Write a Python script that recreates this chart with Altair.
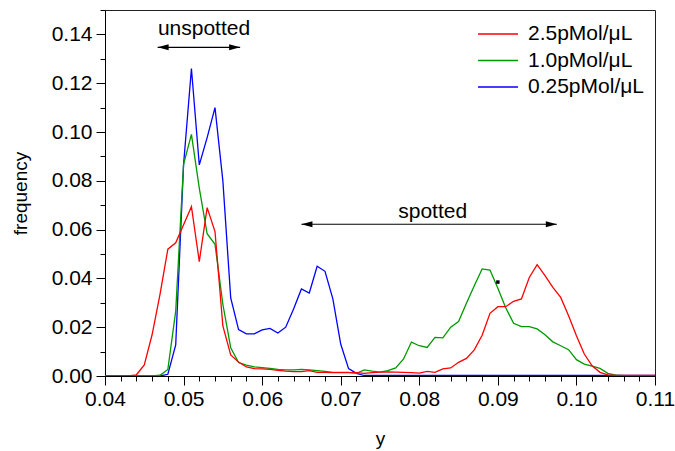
import altair as alt
import pandas as pd

# ---- data ----
x_vals = [0.040, 0.041, 0.042, 0.043, 0.044, 0.045, 0.046, 0.047, 0.048, 0.049,
          0.050, 0.051, 0.052, 0.053, 0.054, 0.055, 0.056, 0.057, 0.058, 0.059,
          0.060, 0.061, 0.062, 0.063, 0.064, 0.065, 0.066, 0.067, 0.068, 0.069,
          0.070, 0.071, 0.072, 0.073, 0.074, 0.075, 0.076, 0.077, 0.078, 0.079,
          0.080, 0.081, 0.082, 0.083, 0.084, 0.085, 0.086, 0.087, 0.088, 0.089,
          0.090, 0.091, 0.092, 0.093, 0.094, 0.095, 0.096, 0.097, 0.098, 0.099,
          0.100, 0.101, 0.102, 0.103, 0.104, 0.105, 0.106, 0.107, 0.108, 0.109,
          0.110]

red = [0, 0, 0, 0, 0.0005, 0.0045, 0.017, 0.0335, 0.052, 0.0546,
       0.062, 0.0694, 0.0469, 0.069, 0.0592, 0.0205, 0.0086, 0.0057, 0.0037, 0.003,
       0.0029, 0.0027, 0.0023, 0.002, 0.0018, 0.0018, 0.0022, 0.0015, 0.0015, 0.0014,
       0.0014, 0.0014, 0.0014, 0.0011, 0.0014, 0.0016, 0.0017, 0.0016, 0.0015, 0.0014,
       0.0012, 0.0019, 0.0015, 0.0029, 0.0033, 0.0056, 0.0072, 0.0107, 0.0167, 0.0257,
       0.0284, 0.0284, 0.0306, 0.0316, 0.0404, 0.0456, 0.0411, 0.0363, 0.0322, 0.0247,
       0.0165, 0.009, 0.0042, 0.0015, 0.0005, 0.0002, 0.0002, 0.0002, 0.0002, 0.0002,
       0.0002]

green = [0, 0, 0, 0, 0, 0, 0, 0.0003, 0.0027, 0.0266,
         0.0867, 0.099, 0.077, 0.0583, 0.054, 0.0294, 0.0116, 0.0055, 0.0045, 0.0037,
         0.0034, 0.0031, 0.0027, 0.0025, 0.0025, 0.0027, 0.0025, 0.0022, 0.0019, 0.0015,
         0.0015, 0.0015, 0.0011, 0.0025, 0.002, 0.0016, 0.0022, 0.0033, 0.007, 0.0139,
         0.0124, 0.0117, 0.0158, 0.0156, 0.020, 0.0223, 0.0298, 0.037, 0.0439, 0.0434,
         0.036, 0.028, 0.0216, 0.0202, 0.0202, 0.0193, 0.0169, 0.014, 0.0124, 0.0108,
         0.0067, 0.0049, 0.004, 0.0031, 0.0011, 0.0004, 0.0001, 0.0001, 0.0001, 0.0001,
         0.0001]

blue = [0, 0, 0, 0, 0, 0, 0, 0, 0.0007, 0.0127,
        0.0867, 0.126, 0.0865, 0.0977, 0.110, 0.080, 0.032, 0.019, 0.0173, 0.0173,
        0.0189, 0.0195, 0.0176, 0.020, 0.0275, 0.0357, 0.034, 0.045, 0.0429, 0.0316,
        0.0131, 0.003, 0.0011, 0.0002, 0.0002, 0.0002, 0.0002, 0.0002, 0.0002, 0.0002,
        0.0002, 0.0002, 0.0002, 0.0002, 0.0002, 0.0002, 0.0002, 0.0002, 0.0002, 0.0002,
        0.0002, 0.0002, 0.0002, 0.0002, 0.0002, 0.0002, 0.0002, 0.0002, 0.0002, 0.0002,
        0.0002, 0.0002, 0.0002, 0.0002, 0.0002, 0.0002, 0.0002, 0.0002, 0.0002, 0.0002,
        0.0002]

series_names = ["2.5pMol/\u03bcL", "1.0pMol/\u03bcL", "0.25pMol/\u03bcL"]
series_colors = ["#ff0000", "#009a00", "#0000ff"]

x_major = [0.04, 0.05, 0.06, 0.07, 0.08, 0.09, 0.10, 0.11]
x_minor = [0.042, 0.044, 0.046, 0.048, 0.052, 0.054, 0.056, 0.058,
           0.062, 0.064, 0.066, 0.068, 0.072, 0.074, 0.076, 0.078,
           0.082, 0.084, 0.086, 0.088, 0.092, 0.094, 0.096, 0.098,
           0.102, 0.104, 0.106, 0.108]
y_major = [0.0, 0.02, 0.04, 0.06, 0.08, 0.10, 0.12, 0.14]
y_minor = [0.01, 0.03, 0.05, 0.07, 0.09, 0.11, 0.13, 0.15]

# annotations
arrow_x1 = [0.0467, 0.0650]
arrow_x2 = [0.0572, 0.0975]
arrow_y = [0.1347, 0.0622]
label_text = ["unspotted", "spotted"]
label_x = [0.0526, 0.0817]
label_y = [0.1422, 0.0673]
dot_x = [0.0900]
dot_y = [0.0385]

FONT = "Liberation Sans"

rows = []
for name, vals in zip(series_names, [red, green, blue]):
    for xv, yv in zip(x_vals, vals):
        rows.append({"x": xv, "freq": yv, "series": name})
df = pd.DataFrame(rows)

arrows = pd.DataFrame({"x1": arrow_x1, "x2": arrow_x2, "y": arrow_y})
labels = pd.DataFrame({"text": label_text, "x": label_x, "y": label_y})
dots = pd.DataFrame({"x": dot_x, "y": dot_y})

x_test = "abs(datum.value*100 - round(datum.value*100)) < 0.001"
y_test = "abs(datum.value*50 - round(datum.value*50)) < 0.001"

x_scale = alt.Scale(domain=[0.04, 0.11], nice=False, zero=False)
y_scale = alt.Scale(domain=[0.0, 0.15], nice=False, zero=True)

x_axis = alt.Axis(
    values=x_major + x_minor, tickCount=200,
    labelExpr=f"{x_test} ? format(datum.value, '.2f') : ''",
    tickSize={"condition": {"test": x_test, "value": 9}, "value": 5},
    title="y", titlePadding=20, labelPadding=3, grid=False,
    labelOverlap=False, labelFlush=False,
)
y_axis = alt.Axis(
    values=y_major + y_minor, tickCount=200,
    labelExpr=f"{y_test} ? format(datum.value, '.2f') : ''",
    tickSize={"condition": {"test": y_test, "value": 9}, "value": 5},
    title="frequency", titlePadding=21, labelPadding=4, grid=False,
    labelOverlap=False, labelFlush=False,
)

color = alt.Color(
    "series:N",
    scale=alt.Scale(domain=series_names, range=series_colors),
    legend=alt.Legend(
        title=None, orient="none", legendX=382, legendY=13,
        symbolType="M-2,0L2,0", symbolSize=400, symbolStrokeWidth=1.3,
        symbolFillColor="transparent",
        labelFontSize=21, labelFont=FONT, labelOffset=19, rowPadding=5.5,
        labelColor="black",
    ),
)

base = alt.Chart(df)


def layer_for(name):
    return base.transform_filter(alt.datum.series == name).mark_line(
        strokeWidth=1.3, clip=True
    ).encode(
        x=alt.X("x:Q", scale=x_scale, axis=x_axis),
        y=alt.Y("freq:Q", scale=y_scale, axis=y_axis),
        color=color,
    )


lines = [layer_for(series_names[2]), layer_for(series_names[1]), layer_for(series_names[0])]

shafts = alt.Chart(arrows).mark_rule(color="black", strokeWidth=1.2).encode(
    x=alt.X("x1:Q", scale=x_scale), x2="x2:Q", y=alt.Y("y:Q", scale=y_scale)
)
head_left = alt.Chart(arrows).mark_point(
    shape="M0,0 L1,-0.27 L1,0.27 Z", filled=True, color="black", opacity=1, size=484
).encode(x=alt.X("x1:Q", scale=x_scale), y=alt.Y("y:Q", scale=y_scale))
head_right = alt.Chart(arrows).mark_point(
    shape="M0,0 L-1,-0.27 L-1,0.27 Z", filled=True, color="black", opacity=1, size=484
).encode(x=alt.X("x2:Q", scale=x_scale), y=alt.Y("y:Q", scale=y_scale))
texts = alt.Chart(labels).mark_text(
    font=FONT, fontSize=21, color="black", align="center", baseline="middle"
).encode(x=alt.X("x:Q", scale=x_scale), y=alt.Y("y:Q", scale=y_scale), text="text:N")
dot = alt.Chart(dots).mark_point(
    shape="square", filled=True, color="black", opacity=1, size=12
).encode(x=alt.X("x:Q", scale=x_scale), y=alt.Y("y:Q", scale=y_scale))

chart = alt.layer(*lines, shafts, head_left, head_right, texts, dot).properties(
    width=550, height=366,
    autosize=alt.AutoSizeParams(type="none"),
    padding={"left": 105, "top": 10, "right": 20, "bottom": 75},
    background="white",
).configure_view(
    stroke="#222222", strokeWidth=1
).configure_axis(
    domainColor="black", domainWidth=1, tickColor="black", tickWidth=1,
    labelColor="black", labelFont=FONT, labelFontSize=21,
    titleColor="black", titleFont=FONT, titleFontSize=19, titleFontWeight="normal",
)

chart.save("out.html", embed_options={"renderer": "svg", "actions": False})
